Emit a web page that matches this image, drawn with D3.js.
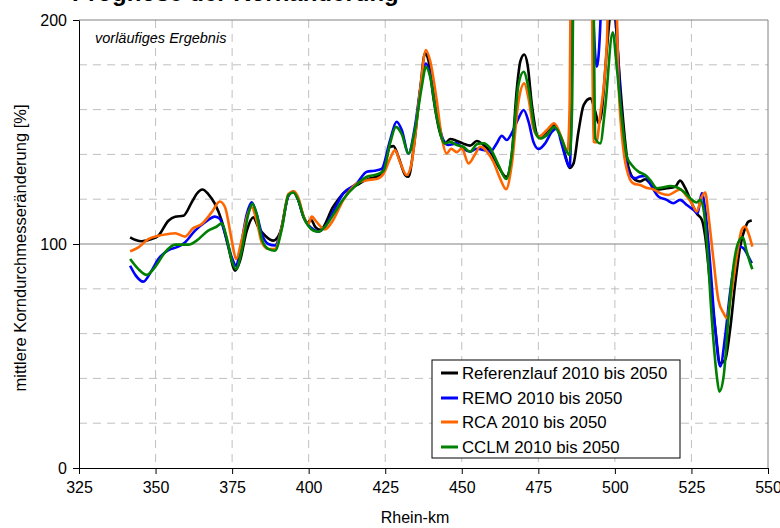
<!DOCTYPE html>
<html><head><meta charset="utf-8">
<script src="https://cdn.jsdelivr.net/npm/d3@7/dist/d3.min.js"></script>
<style>body{margin:0;background:#fff;} svg{display:block;font-family:"Liberation Sans",Arial,sans-serif;}</style>
</head><body>
<svg id="c" width="780" height="528"></svg>
<script>
const title = "Prognose der Kornänderung";
const note = "vorläufiges Ergebnis";
const xLabel = "Rhein-km";
const yLabel = "mittlere Korndurchmesseränderung [%]";
const xTicks = [325,350,375,400,425,450,475,500,525,550];
const yTicks = [0,100,200];
const yGrid = [20,40,60,80,120,140,160,180];
const seriesNames = ["Referenzlauf 2010 bis 2050","REMO 2010 bis 2050","RCA 2010 bis 2050","CCLM 2010 bis 2050"];
const seriesColors = ["#000000","#0000ff","#ff6600","#008000"];

const refKm = [341.7,343.5,345.5,348.7,350.9,354.2,356.4,359.1,361.8,363.4,365.3,367.2,369.4,371.6,373.8,376.0,377.6,379.8,381.9,383.6,385.8,388.5,390.7,393.4,395.0,396.6,398.3,399.5,400.8,402.2,403.8,408.0,411.3,415.7,420.0,422.2,424.4,426.6,427.7,429.3,431.5,432.6,434.2,436.4,438.0,439.1,440.7,442.4,444.5,446.2,448.4,450.5,452.7,454.9,457.1,459.3,462.0,464.5,466.3,468.0,469.1,470.4,471.5,472.9,475.1,477.2,480.0,482.1,483.8,485.2,486.5,488.1,489.8,492.0,493.6,494.7,495.6,497.4,498.6,499.3,500.2,501.7,503.3,504.4,506.6,508.2,509.9,511.5,514.2,516.9,519.7,521.3,523.0,525.1,526.7,528.4,529.5,531.1,532.7,534.4,536.0,537.6,539.3,540.9,542.5,543.6,544.7];
const refVal = [103,101.8,101.2,102.2,103.7,110.4,112.2,112.6,118.6,122.3,124.3,122.3,117.9,110.4,98.5,88.1,92.6,106,111.9,107.4,103.7,101.5,105.2,121.6,123.3,119.6,112.2,109.5,110.8,107.5,106.3,116.6,122.6,126.3,129.3,130,133,143.4,143.7,139,130.8,130,141.9,168.7,185.1,182.1,165.7,152.3,144.9,146.9,146,144.8,143.9,146,144.2,141.2,134.5,130,139.7,169.5,181.4,184.6,179.9,162,147.9,149.4,153.1,148.6,139.7,134,136,150.1,162,165,159.1,153.9,158,187.3,205,212,200,171.7,146.4,134.5,128.6,127.9,128.9,127.1,124.4,124.9,125.6,128.3,124.9,118.2,113.7,110.8,103.3,82.5,63.1,46.8,48.3,61.6,82.5,98.8,107,110,110.5];

const remoKm = [341.7,343.5,346.0,348.7,350.9,354.2,357.4,359.6,362.9,366.2,369.4,371.0,372.7,374.9,376.3,377.6,379.8,381.4,383.0,384.7,386.8,389.0,391.2,393.4,395.0,396.6,398.3,399.9,401.5,403.2,405.5,408.0,411.3,415.7,419.0,421.5,423.8,426.6,428.7,430.4,432.6,434.7,436.9,438.3,439.6,441.8,444.0,445.6,448.3,450.5,452.7,454.9,457.1,459.3,461.4,463.1,464.7,466.3,468.5,470.2,471.8,473.4,475.1,477.2,479.4,481.0,482.7,484.3,485.2,485.8,486.3,492.3,493.0,494.1,495.3,496.0,499.5,500.5,501.9,503.3,504.9,506.6,508.2,509.9,511.5,514.2,516.9,519.1,521.3,523.5,525.7,527.0,528.4,529.5,531.1,532.7,534.4,536.0,537.6,539.3,540.9,542.0,543.6,544.7];
const remoVal = [90.3,86,83.2,88.1,93.3,97.3,98.8,100.7,106,109.7,112.2,111.2,104.5,94,90.3,97,113.4,118.6,113.4,104.5,100,99.3,107.4,121.6,123.3,119.6,112.2,108.5,106.5,105.5,108,114.5,122.6,127,132.3,132.7,133.5,146.4,154.6,150.9,140.4,152.3,173.2,180.6,176.2,158.3,146.4,144.2,144.9,142.5,141.2,142.5,142,141.2,144.9,148.3,146.4,149.4,156.1,159.8,154.6,145.6,142.4,144.9,150.1,151.6,144.2,136.7,134.5,160,230,230,200,179.1,200,230,230,200,162,140.5,131,129.3,130.1,130.4,127,121.2,119.7,118.2,119.7,117.4,115.2,113.7,122.7,115.2,91.4,63.1,45.3,58.7,78,92.9,98.8,98.1,94.4,91.4];

const rcaKm = [341.7,344.4,347.6,350.9,354.2,356.4,359.6,362.3,365.1,368.3,371.0,372.7,374.9,376.3,378.1,380.3,381.4,383.0,384.7,386.8,389.0,391.2,393.4,395.2,396.8,398.3,399.9,401.0,402.5,405.3,408.0,411.3,415.7,419.0,422.2,424.4,426.6,428.2,429.8,432.0,433.6,436.4,438.3,439.6,441.8,443.4,445.1,446.5,448.4,450.0,452.2,454.2,456.0,458.2,460.3,462.5,464.5,466.3,468.5,470.4,471.8,473.4,475.1,477.8,480.2,482.7,484.5,485.2,485.7,492.3,493.0,493.9,495.2,497.4,498.2,500.0,501.2,502.8,504.4,506.1,508.2,510.5,512.6,514.8,517.5,519.7,521.3,523.5,525.1,526.7,528.4,529.5,530.6,532.2,533.8,535.5,536.5,538.2,539.8,541.4,542.5,543.6,544.9];
const rcaVal = [96.7,98.5,102.2,103.7,104.5,104.8,103.3,107.1,108.9,114.1,119,116.4,101.5,93.3,101.5,114.1,116.4,110.4,100.7,97.8,97.8,107.4,122.3,123.5,120,112.5,109,112.2,110,106.5,110.7,119.6,127,128.5,129,131.2,138.2,141.9,136.7,130.8,136,168.7,186.6,182.1,164.3,148,140.4,142.5,141,142.7,136,139.7,143.4,141.2,136.7,129.3,124.5,135.2,163.5,171.7,165,151.6,147.9,150.9,153.9,147,141.2,160,230,230,145.6,145.3,157.6,190.3,230,230,171.7,142,130.8,127,126.3,125,124.4,122.7,121.9,123.4,124.4,121.2,118.2,114.5,121.2,123,112.2,92.9,75,69.1,66.9,79.5,94.4,106.3,107.8,104.8,98.8];

const cclmKm = [341.7,344.4,347.1,349.8,353.1,356.4,360.7,363.4,367.2,369.9,371.6,373.2,374.9,376.3,378.1,380.3,381.6,383.0,384.7,386.8,389.0,391.2,393.4,395.0,396.6,398.3,399.9,401.5,403.2,405.5,408.0,411.3,415.7,419.0,422.2,424.4,426.6,428.5,430.4,432.6,434.7,436.9,438.3,439.6,441.8,444.5,446.2,448.4,450.5,452.7,454.9,457.1,459.3,462.0,464.5,466.3,468.5,470.2,471.8,474.0,475.6,477.8,480.2,482.1,484.3,485.2,486.0,486.6,492.8,493.6,495.2,496.8,499.3,500.6,502.2,503.9,505.5,507.7,509.9,511.5,513.7,515.9,518.0,520.2,522.4,524.6,526.7,527.8,528.9,530.2,531.6,533.3,534.1,535.5,537.1,538.7,540.4,541.8,542.9,544.2,544.9];
const cclmVal = [93.3,88.8,86.2,89.6,96.3,99.7,99.7,101.5,106,107.7,109.2,103,92.6,88.8,97,113.4,117.9,113.4,102.2,97.8,97,106.5,121.9,123,119.6,112.2,108,106,105.5,108,113,120,126.5,130,131,132.5,145,152.3,149,140.4,150.9,170,179.1,175,156.8,144.9,145.6,144.2,143.4,141.2,144.5,145,142.7,135.2,129,139.7,171,176.9,169.5,150.1,147.1,148.6,152.3,148.6,141.2,139.7,160,230,230,147.1,144.9,160.5,194.5,179.1,156.8,139,135.3,132.3,130.8,128.6,124.9,125.3,125.9,125.3,123.4,120.4,118.5,119.7,116,97.4,67.6,40.8,34.1,40.8,67.6,89.9,101,103,97.4,91.4,88.7];

const kmSets = [refKm, remoKm, rcaKm, cclmKm];
const valSets = [refVal, remoVal, rcaVal, cclmVal];

const svg = d3.select("#c");
const L = 79, R = 768, T = 20, B = 468;
const x = d3.scaleLinear().domain([325,550]).range([L,R]);
const y = d3.scaleLinear().domain([0,200]).range([B,T]);

// title (mostly cut off at the top edge, as in the reference)
svg.append("text").attr("x",72).attr("y",1).attr("font-size",24).attr("font-weight","bold").text(title);

// grid
const g = svg.append("g");
g.selectAll(".vg").data(xTicks.slice(1,-1)).enter().append("line")
  .attr("x1",d=>x(d)).attr("x2",d=>x(d)).attr("y1",T).attr("y2",B)
  .attr("stroke","#c0c0c0").attr("stroke-width",1).attr("stroke-dasharray","8,6");
g.selectAll(".hg").data(yGrid).enter().append("line")
  .attr("x1",L).attr("x2",R).attr("y1",d=>y(d)).attr("y2",d=>y(d))
  .attr("stroke","#c0c0c0").attr("stroke-width",1).attr("stroke-dasharray","8,6");
g.append("line").attr("x1",L).attr("x2",R).attr("y1",y(200)).attr("y2",y(200)).attr("stroke","#808080");
g.append("line").attr("x1",R).attr("x2",R).attr("y1",T).attr("y2",B).attr("stroke","#808080");
g.append("line").attr("x1",L).attr("x2",R).attr("y1",y(100)).attr("y2",y(100)).attr("stroke","#808080");

svg.append("clipPath").attr("id","clip").append("rect").attr("x",L).attr("y",T).attr("width",R-L).attr("height",B-T);

const line = d3.line().x(d=>x(d[0])).y(d=>y(d[1])).curve(d3.curveMonotoneX);
const lg = svg.append("g").attr("clip-path","url(#clip)");
kmSets.forEach((km,i)=>{
  const pts = km.map((k,j)=>[k, valSets[i][j]]);
  lg.append("path").attr("d",line(pts)).attr("fill","none")
    .attr("stroke",seriesColors[i]).attr("stroke-width",2.6).attr("stroke-linejoin","round");
});

const xa = svg.append("g").attr("transform",`translate(0,${B})`)
  .call(d3.axisBottom(x).tickValues(xTicks).tickSize(6).tickSizeOuter(0).tickPadding(8));
const ya = svg.append("g").attr("transform",`translate(${L},0)`)
  .call(d3.axisLeft(y).tickValues(yTicks).tickSize(6).tickSizeOuter(0).tickPadding(6));
[xa,ya].forEach(a=>{
  a.selectAll("text").attr("font-size",16).attr("fill","#000").attr("font-family","Liberation Sans, Arial, sans-serif");
  a.selectAll("line").attr("stroke","#000");
  a.select(".domain").attr("stroke","#000");
});

svg.append("text").attr("x",415).attr("y",523).attr("text-anchor","middle").attr("font-size",16).text(xLabel);
svg.append("text").attr("transform","translate(26,248) rotate(-90)").attr("text-anchor","middle").attr("font-size",16.5).text(yLabel);

svg.append("text").attr("x",95).attr("y",43).attr("font-size",14.5).attr("font-style","italic").text(note);

const leg = svg.append("g");
leg.append("rect").attr("x",432).attr("y",360).attr("width",248).attr("height",98).attr("fill","#fff").attr("stroke","#000");
const rows = [373,398,422,447];
seriesNames.forEach((n,i)=>{
  leg.append("line").attr("x1",441).attr("x2",458).attr("y1",rows[i]).attr("y2",rows[i]).attr("stroke",seriesColors[i]).attr("stroke-width",3);
  leg.append("text").attr("x",462).attr("y",rows[i]).attr("dy","0.35em").attr("font-size",16.8).text(n);
});
</script>
</body></html>
